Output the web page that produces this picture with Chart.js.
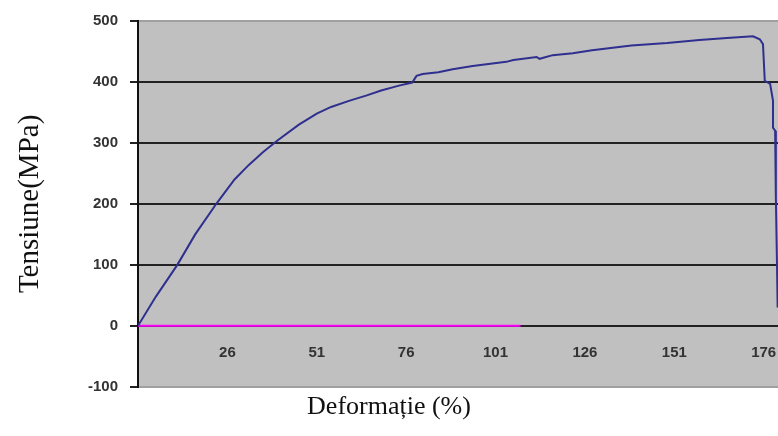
<!DOCTYPE html>
<html>
<head>
<meta charset="utf-8">
<script src="https://cdn.jsdelivr.net/npm/chart.js@4.4.1/dist/chart.umd.min.js"></script>
<style>
  html, body { margin: 0; padding: 0; background: #ffffff; }
  #wrap { width: 778px; height: 436px; }
</style>
</head>
<body>
<div id="wrap"><canvas id="chart" width="778" height="436"></canvas></div>
<script>
// Courbe contrainte / déformation
const strain = [1, 6, 12, 17, 23, 28, 32, 36, 40, 46, 51, 55, 60, 65, 69, 74, 77.7, 78.9, 80.6, 85, 89, 94.6, 104, 106, 112.5, 113.3, 117, 122.6, 128, 139, 149, 158, 165.7, 173, 174.9, 175.8, 176.3, 177.8, 178.6, 178.6, 179.2, 179.4, 179.7, 179.9];
const stress = [0, 48, 100, 150, 201, 240, 264, 285, 304, 330, 348, 359, 369, 378, 386, 394, 399, 410, 413, 416, 421, 426, 433, 436, 441, 438, 444, 447, 452, 460, 464, 469, 472, 475, 470, 462, 402, 397, 369, 325, 320, 211, 108, 30];

// Ligne de base (série rose à 0)
const baseX = [1, 108];
const baseY = [0, 0];

const xTickValues = [26, 51, 76, 101, 126, 151, 176];
const yMin = -100;
const yMax = 500;

const toPoints = (xs, ys) => xs.map((x, i) => ({ x: x, y: ys[i] }));

// Fond gris de la zone de tracé
const plotBackground = {
  id: "plotBackground",
  beforeDraw(chart) {
    const { ctx, chartArea } = chart;
    ctx.save();
    ctx.fillStyle = "#c0c0c0";
    ctx.fillRect(chartArea.left, chartArea.top, chartArea.right - chartArea.left, chartArea.bottom - chartArea.top);
    ctx.restore();
  },
};

new Chart(document.getElementById("chart"), {
  type: "line",
  data: {
    datasets: [
      {
        label: "Tensiune",
        data: toPoints(strain, stress),
        borderColor: "#2f2f8f",
        borderWidth: 2,
        pointRadius: 0,
        tension: 0,
      },
      {
        label: "Baza",
        data: toPoints(baseX, baseY),
        borderColor: "#ff00ff",
        borderWidth: 2,
        pointRadius: 0,
      },
    ],
  },
  options: {
    responsive: false,
    animation: false,
    layout: { padding: { left: 0, right: 0, top: 20, bottom: 0 } },
    plugins: {
      legend: { display: false },
      tooltip: { enabled: false },
      title: {
        display: true,
        position: "bottom",
        text: "Deformație (%)",
        color: "#111111",
        padding: { top: 5, bottom: 13 },
        font: { family: "'Times New Roman', 'Liberation Serif'", size: 26, weight: "normal" },
      },
    },
    scales: {
      x: {
        type: "linear",
        position: { y: 0 },
        min: 1,
        max: 180,
        afterBuildTicks: (scale) => {
          scale.ticks = xTickValues.map((v) => ({ value: v }));
        },
        // graduations invisibles : elles servent seulement à descendre les étiquettes sous la ligne 0
        grid: { display: true, drawOnChartArea: false, drawTicks: true, tickLength: 18, tickColor: "rgba(0,0,0,0)" },
        border: { display: false },
        ticks: {
          padding: 0,
          maxRotation: 0,
          color: "#333333",
          font: { family: "Arial, 'Liberation Sans'", size: 15, weight: "bold" },
        },
      },
      y: {
        min: yMin,
        max: yMax,
        afterFit: (scale) => {
          scale.width = 138;
        },
        grid: {
          color: (ctx) => (ctx.tick && (ctx.tick.value === yMax || ctx.tick.value === yMin) ? "#a0a0a0" : "#222222"),
          lineWidth: 2,
          tickLength: 8,
          tickColor: "#222222",
        },
        border: { display: true, color: "#111111", width: 2 },
        ticks: {
          stepSize: 100,
          padding: 12,
          color: "#333333",
          font: { family: "Arial, 'Liberation Sans'", size: 15, weight: "bold" },
        },
        title: {
          display: true,
          text: "Tensiune(MPa)",
          color: "#111111",
          padding: { top: 13, bottom: 0 },
          font: { family: "'Times New Roman', 'Liberation Serif'", size: 29 },
        },
      },
    },
  },
  plugins: [plotBackground],
});
</script>
</body>
</html>
